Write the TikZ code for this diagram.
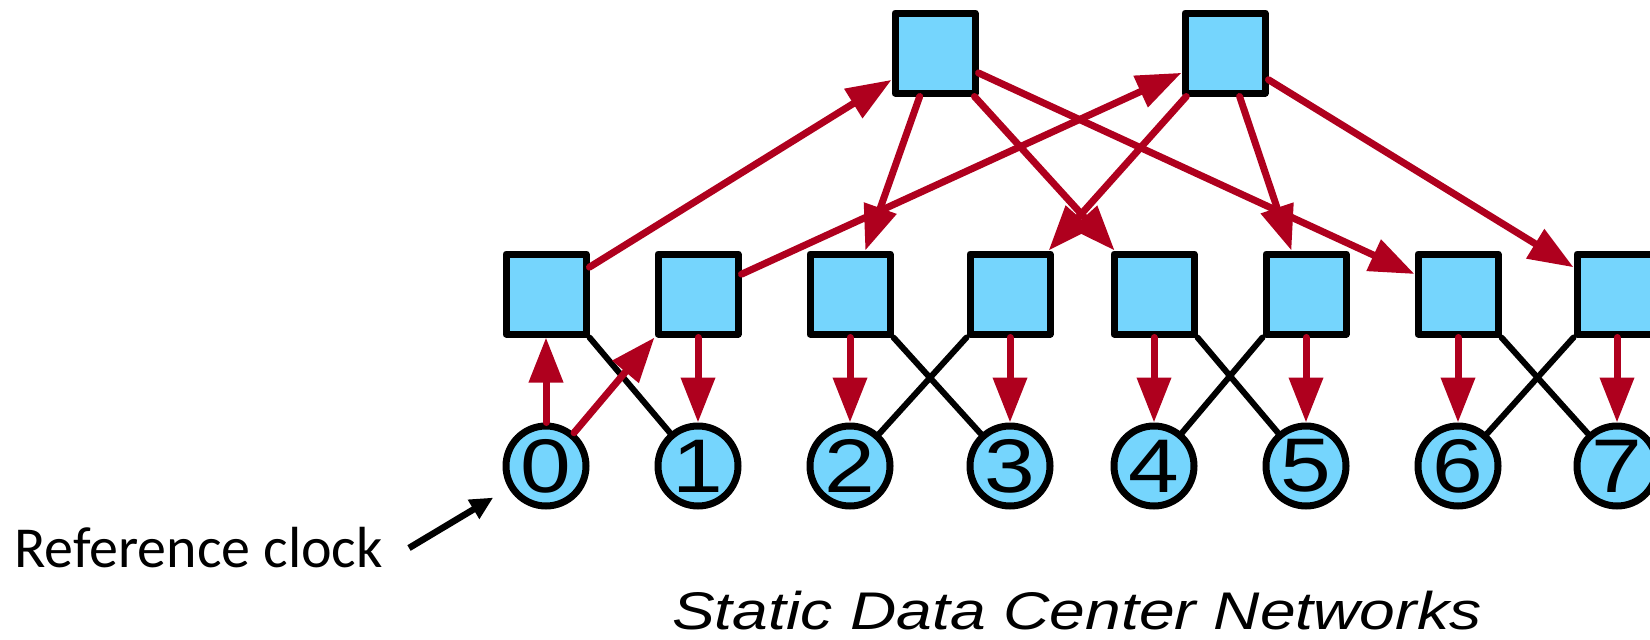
\documentclass[tikz,border=0pt]{standalone}
\usepackage{fontspec}
\usepackage{graphicx}
\setmainfont{Liberation Sans}
\newfontfamily\calib{Carlito}
\usetikzlibrary{arrows.meta}
\definecolor{swblue}{HTML}{75D5FD}
\definecolor{lnred}{HTML}{AF001E}
\newcommand{\hostlabel}[1]{\raisebox{-3pt}{\scalebox{1.2}[1]{#1}}}
\begin{document}
\begin{tikzpicture}[x=1pt,y=-1pt,
  sw/.style={draw=black,line width=7pt,line join=round,fill=swblue,minimum width=80pt,minimum height=80pt,inner sep=0pt},
  hostnode/.style={circle,draw=black,line width=7pt,fill=swblue,minimum size=80pt,inner sep=0pt,font=\fontsize{76}{76}\selectfont},
  redarr/.style={draw=lnred,line width=7pt,line cap=round,-{Triangle[length=45pt,width=33pt]}},
  blk/.style={draw=black,line width=6pt,line cap=round},
  clkarrow/.style={draw=black,line width=6.5pt,-{Triangle[length=23pt,width=21pt]}}]
\clip (0,0) rectangle (1650,640);
% core switches
\node[sw] (T0) at (935,53) {};
\node[sw] (T1) at (1225,53) {};
% lower switches
\node[sw] (s0) at (546,294) {};
\node[sw] (s1) at (698,294) {};
\node[sw] (s2) at (850,294) {};
\node[sw] (s3) at (1010,294) {};
\node[sw] (s4) at (1154,294) {};
\node[sw] (s5) at (1306,294) {};
\node[sw] (s6) at (1458,294) {};
\node[sw] (s7) at (1617,294) {};
% hosts
\node[hostnode] (c0) at (546,466) {\hostlabel{0}};
\node[hostnode] (c1) at (698,466) {\hostlabel{1}};
\node[hostnode] (c2) at (850,466) {\hostlabel{2}};
\node[hostnode] (c3) at (1010,466) {\hostlabel{3}};
\node[hostnode] (c4) at (1154,466) {\hostlabel{4}};
\node[hostnode] (c5) at (1306,466) {\hostlabel{5}};
\node[hostnode] (c6) at (1458,466) {\hostlabel{6}};
\node[hostnode] (c7) at (1617,466) {\hostlabel{7}};
% black links
\draw[blk] (s0.south east) -- (c1);
\draw[blk] (s2.south east) -- (c3);
\draw[blk] (s3.south west) -- (c2);
\draw[blk] (s4.south east) -- (c5);
\draw[blk] (s5.south west) -- (c4);
\draw[blk] (s6.south east) -- (c7);
\draw[blk] (s7.south west) -- (c6);
% red sync arrows
\draw[redarr] (c0) -- (s0);
\draw[redarr] (c0) -- (s1.south west);
\foreach \i in {1,...,7} { \draw[redarr] (s\i) -- (c\i); }
\draw[redarr] (s0) -- (T0);
\draw[redarr] (s1) -- (T1);
\foreach \t in {2,4,6} { \draw[redarr] (T0) -- (s\t); }
\foreach \t in {3,5,7} { \draw[redarr] (T1) -- (s\t); }
% labels
\node[anchor=base west,inner sep=0pt,font=\calib\fontsize{58}{58}\selectfont] (clk) at (14,567) {Reference clock};
\coordinate (clkA) at (409,548);
\draw[clkarrow,shorten >=18pt] (clkA) -- (c0);
\node[anchor=base west,inner sep=0pt,font=\itshape\fontsize{53}{53}\selectfont] (cap) at (672,629) {\scalebox{1.21}[1]{Static Data Center Networks}};
\end{tikzpicture}
\end{document}
